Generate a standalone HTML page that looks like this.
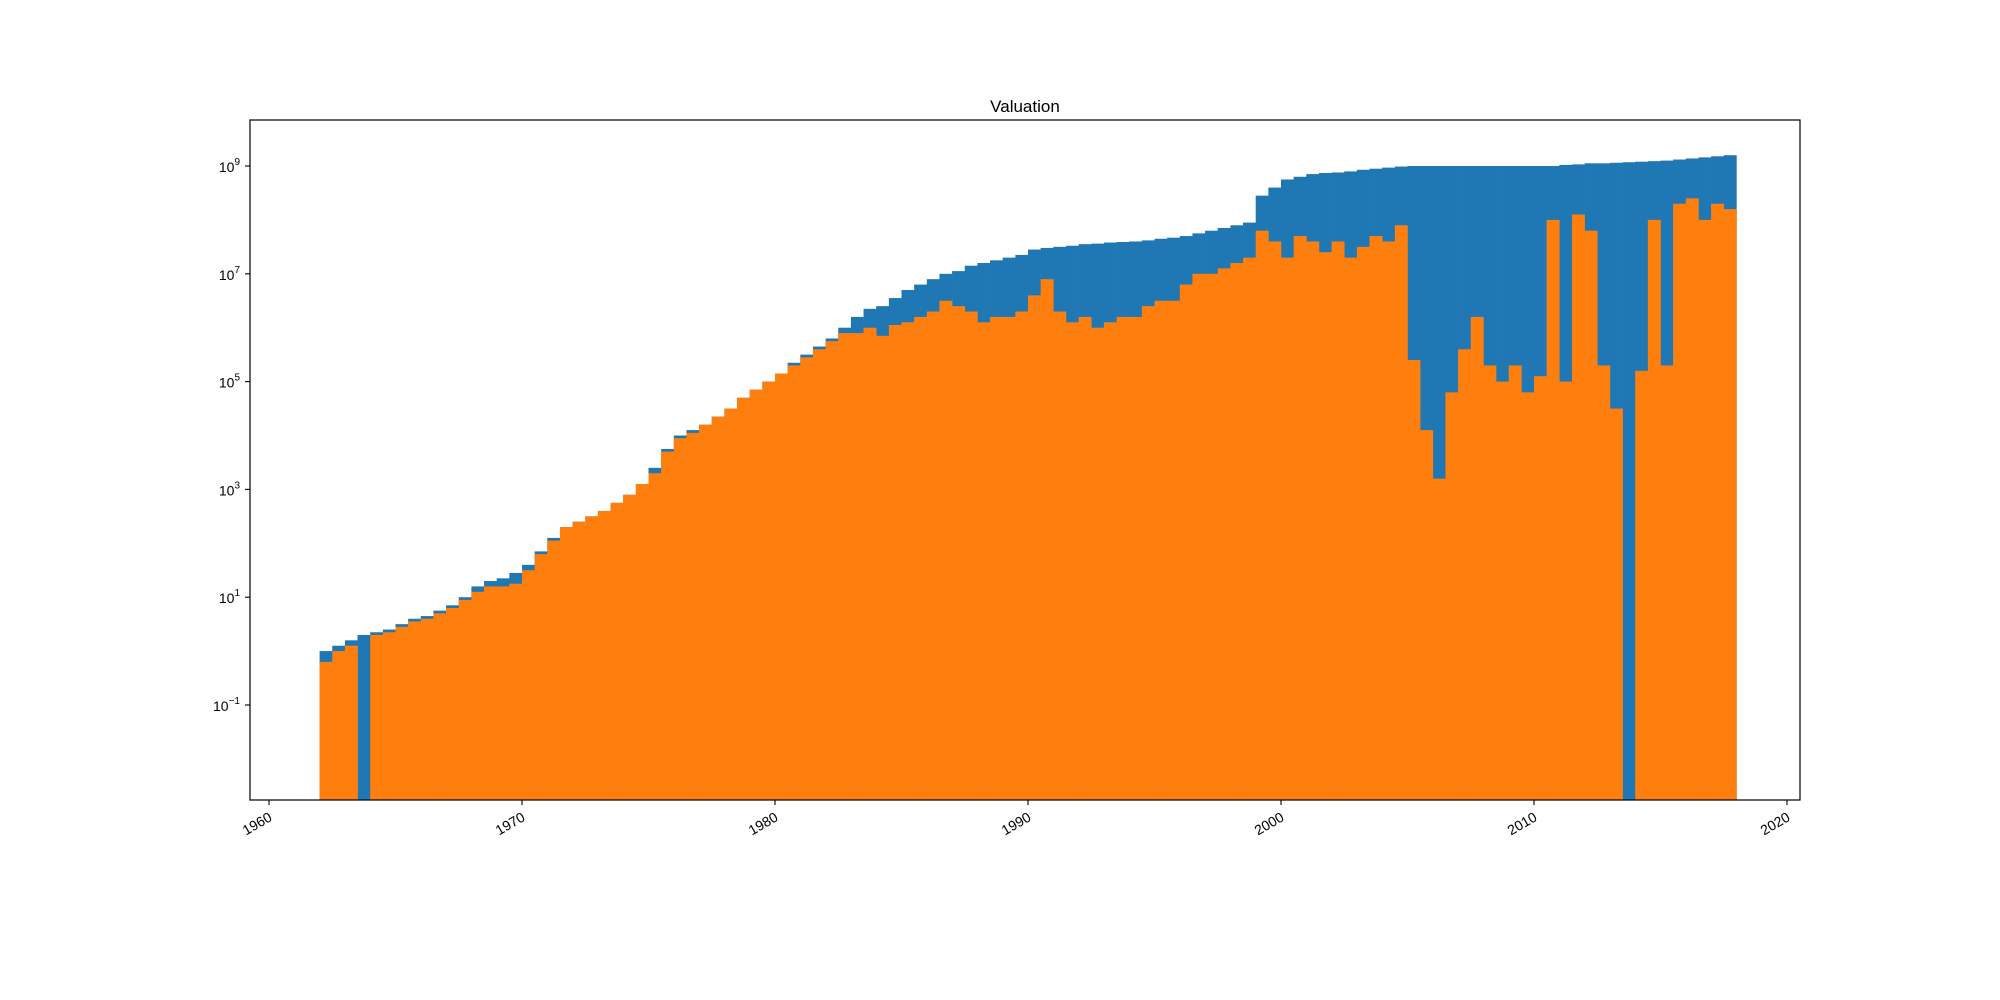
<!DOCTYPE html>
<html><head><meta charset="utf-8"><style>
body{margin:0;background:#fff;}
svg{display:block;font-family:"Liberation Sans","DejaVu Sans",sans-serif;}
</style></head><body>
<svg id="chart" width="2000" height="1000" viewBox="0 0 2000 1000" xmlns="http://www.w3.org/2000/svg">
<rect x="0" y="0" width="2000" height="1000" fill="#fff"/>
<g id="bars-blue"></g>
<g id="bars-orange"></g>
<rect x="250" y="120" width="1550" height="680" fill="none" stroke="#000" stroke-width="1.2"/>
<g id="xaxis"></g>
<g id="yaxis"></g>
<text x="1025" y="112" text-anchor="middle" font-size="17">Valuation</text>
</svg>
<script>
const startYear = 1962;
const stepYears = 0.5;
const blueLog = [0,0.1,0.2,0.3,0.35,0.4,0.5,0.6,0.65,0.75,0.85,1.0,1.2,1.3,1.35,1.45,1.6,1.85,2.1,2.3,2.4,2.5,2.6,2.75,2.9,3.1,3.4,3.75,4.0,4.1,4.2,4.35,4.5,4.7,4.85,5.0,
5.15,5.35,5.5,5.65,5.8,6.0,6.2,6.35,6.4,6.55,6.7,6.8,6.9,7.0,7.05,7.15,7.2,7.25,7.3,7.35,7.45,7.48,7.5,7.52,7.55,7.56,7.58,7.59,7.6,7.62,7.65,7.67,7.7,7.75,7.8,7.85,7.9,7.95,8.45,8.6,
8.75,8.8,8.85,8.87,8.88,8.9,8.93,8.95,8.97,8.99,9.0,9.0,9.0,9.0,9.0,9.0,9.0,9.0,9.0,9.0,9.0,9.0,9.02,9.03,9.05,9.05,9.06,9.07,9.08,9.09,9.1,9.12,9.14,9.16,9.18,9.2];
const orangeLog = [-0.2,0,0.1,-3,0.3,0.35,0.45,0.55,0.6,0.7,0.8,0.95,1.1,1.2,1.2,1.25,1.5,1.8,2.05,2.3,2.4,2.5,2.6,2.75,2.9,3.1,3.3,3.7,3.95,4.05,4.2,4.35,4.5,4.7,4.85,5.0,
5.15,5.3,5.45,5.6,5.75,5.9,5.9,6.0,5.85,6.05,6.1,6.2,6.3,6.5,6.4,6.3,6.1,6.2,6.2,6.3,6.6,6.9,6.3,6.1,6.2,6.0,6.1,6.2,6.2,6.4,6.5,6.5,6.8,7.0,7.0,7.1,7.2,7.3,7.8,7.6,
7.3,7.7,7.6,7.4,7.6,7.3,7.5,7.7,7.6,7.9,5.4,4.1,3.2,4.8,5.6,6.2,5.3,5.0,5.3,4.8,5.1,8.0,5.0,8.1,7.8,5.3,4.5,-3,5.2,8.0,5.3,8.3,8.4,8.0,8.3,8.2];
const xTicks = [1960,1970,1980,1990,2000,2010,2020];
const yTickExps = [-1,1,3,5,7,9];

const NS = "http://www.w3.org/2000/svg";
const X0 = 269, PX_PER_YEAR = 25.3;
const xScale = y => X0 + (y - 1960) * PX_PER_YEAR;
const Y9 = 166, PX_PER_DECADE = 53.9;
const yScale = e => Y9 + (9 - e) * PX_PER_DECADE;
const BOTTOM = 800, TOP = 120;

function drawBars(gid, arr, color, name) {
  const g = document.getElementById(gid);
  arr.forEach((v, i) => {
    const yr = startYear + i * stepYears;
    const x1 = xScale(yr), x2 = xScale(yr + stepYears);
    let yt = Math.max(TOP, yScale(v));
    if (yt >= BOTTOM) return;
    const r = document.createElementNS(NS, "rect");
    r.setAttribute("x", x1.toFixed(2));
    r.setAttribute("y", yt.toFixed(2));
    r.setAttribute("width", (x2 - x1 + 0.3).toFixed(2));
    r.setAttribute("height", (BOTTOM - yt).toFixed(2));
    r.setAttribute("fill", color);
    
    
    g.appendChild(r);
  });
}
drawBars("bars-blue", blueLog, "#1f77b4", "blue-bar");
drawBars("bars-orange", orangeLog, "#ff7f0e", "orange-bar");

const xg = document.getElementById("xaxis");
xTicks.forEach(t => {
  const x = xScale(t);
  const l = document.createElementNS(NS, "line");
  l.setAttribute("x1", x); l.setAttribute("x2", x);
  l.setAttribute("y1", BOTTOM); l.setAttribute("y2", BOTTOM + 5);
  l.setAttribute("stroke", "#000"); l.setAttribute("stroke-width", "1.1");
  
  
  xg.appendChild(l);
  const tx = document.createElementNS(NS, "text");
  tx.setAttribute("x", x + 4); tx.setAttribute("y", BOTTOM + 20);
  tx.setAttribute("text-anchor", "end");
  tx.setAttribute("font-size", "14");
  tx.setAttribute("transform", `rotate(-30 ${x + 4} ${BOTTOM + 20})`);
  tx.textContent = t;
  
  
  xg.appendChild(tx);
});

const yg = document.getElementById("yaxis");
yTickExps.forEach(e => {
  const y = yScale(e);
  const l = document.createElementNS(NS, "line");
  l.setAttribute("x1", 245); l.setAttribute("x2", 250);
  l.setAttribute("y1", y); l.setAttribute("y2", y);
  l.setAttribute("stroke", "#000"); l.setAttribute("stroke-width", "1.1");
  
  
  yg.appendChild(l);
  const tx = document.createElementNS(NS, "text");
  tx.setAttribute("x", 240); tx.setAttribute("y", y + 6);
  tx.setAttribute("text-anchor", "end");
  tx.setAttribute("font-size", "14");
  const base = document.createElementNS(NS, "tspan");
  base.textContent = "10";
  const sup = document.createElementNS(NS, "tspan");
  sup.setAttribute("dy", "-7");
  sup.setAttribute("font-size", "10");
  sup.textContent = e < 0 ? "\u2212" + (-e) : String(e);
  tx.appendChild(base); tx.appendChild(sup);
  
  
  yg.appendChild(tx);
});
</script>
</body></html>
